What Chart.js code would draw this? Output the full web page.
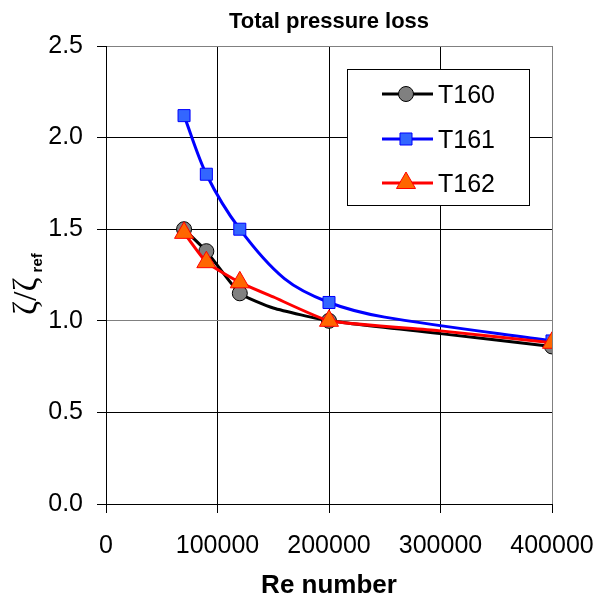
<!DOCTYPE html>
<html>
<head>
<meta charset="utf-8">
<title>Total pressure loss</title>
<script src="https://cdn.jsdelivr.net/npm/chart.js@4/dist/chart.umd.min.js"></script>
<style>
  html, body { margin: 0; padding: 0; background: #fff; }
  #wrap { width: 595px; height: 600px; }
</style>
</head>
<body>
<div id="wrap"><canvas id="lossChart" width="595" height="600"></canvas></div>
<script>
// ========================================
// Total pressure loss vs Re number
// ========================================

// Re numbers (points without a marker only shape the line)
const reNumbers = [70000, 90000, 120000, 150000, 160000, 200000, 250000, 300000, 400000];
const hasMarker = [true, true, true, false, false, true, false, false, true];

// zeta / zeta_ref per series (null = no point there)
const t160 = [1.50, 1.38, 1.15, 1.07, null, 1.00, null, 0.93, 0.86];
const t161 = [2.12, 1.80, 1.50, null, 1.23, 1.10, 1.02, null, 0.89];
const t162 = [1.48, 1.32, 1.21, 1.13, null, 1.00, null, 0.945, 0.88];

const seriesNames = ['T160', 'T161', 'T162'];
const xTicks = [0, 100000, 200000, 300000, 400000];
const yTicks = [0, 0.5, 1.0, 1.5, 2.0, 2.5];

const FONT = "'Liberation Sans', Arial, sans-serif";

// build {x, y} points from the arrays
function toPoints(values) {
  const pts = [];
  reNumbers.forEach((re, i) => {
    if (values[i] !== null) pts.push({ x: re, y: values[i], m: hasMarker[i] });
  });
  return pts;
}

function makeSeries(label, values, style) {
  return {
    label: label,
    data: toPoints(values),
    borderColor: style.line,
    borderWidth: 3,
    backgroundColor: style.fill,
    pointBackgroundColor: style.fill,
    pointBorderColor: style.edge,
    pointBorderWidth: 1,
    pointStyle: style.shape,
    pointRadius: ctx => (ctx.raw && ctx.raw.m ? style.size : 0),
    pointHoverRadius: 0,
    tension: style.tension,
    fill: false,
    order: style.order
  };
}

const styles = [
  { line: '#000000', fill: '#808080', edge: '#000000', shape: 'circle', size: 7.5, order: 2, tension: 0.15 },
  { line: '#0000FF', fill: '#3366FF', edge: '#0000FF', shape: 'rect', size: 8.5, order: 1, tension: 0.3 },
  { line: '#FF0000', fill: '#FF6600', edge: '#FF0000', shape: 'triangle', size: 11, order: 0, tension: 0.15 }
];

// draw one legend marker by hand
function drawMarker(ctx, st, x, y) {
  ctx.save();
  ctx.fillStyle = st.fill;
  ctx.strokeStyle = st.edge;
  ctx.lineWidth = 1;
  ctx.beginPath();
  const r = st.size;
  if (st.shape === 'circle') {
    ctx.arc(x, y, r, 0, Math.PI * 2);
  } else if (st.shape === 'rect') {
    const h = Math.SQRT1_2 * r;
    ctx.rect(x - h, y - h, 2 * h, 2 * h);
  } else {
    const w = r * Math.sin(Math.PI / 3);
    ctx.moveTo(x, y - r);
    ctx.lineTo(x + w, y + r / 2);
    ctx.lineTo(x - w, y + r / 2);
    ctx.closePath();
  }
  ctx.fill();
  ctx.stroke();
  ctx.restore();
}

// titles, axis label and boxed legend
const decorations = {
  id: 'decorations',
  afterDraw(chart) {
    const ctx = chart.ctx;
    const area = chart.chartArea;
    ctx.save();
    ctx.fillStyle = '#000';

    // chart title
    ctx.font = 'bold 22px ' + FONT;
    ctx.textAlign = 'center';
    ctx.textBaseline = 'alphabetic';
    ctx.fillText('Total pressure loss', (area.left + area.right) / 2, 28);

    // x axis title
    ctx.font = 'bold 26px ' + FONT;
    ctx.fillText('Re number', (area.left + area.right) / 2, 593);

    // y axis title: zeta / zeta_ref
    ctx.save();
    ctx.translate(36, 315);
    ctx.rotate(-Math.PI / 2);
    ctx.textAlign = 'left';
    ctx.font = "34px 'Liberation Serif', 'DejaVu Serif', serif";
    ctx.fillText('ζ/ζ', 0, 0);
    const w = ctx.measureText('ζ/ζ').width;
    ctx.font = 'bold 15px ' + FONT;
    ctx.fillText('ref', w + 5, 6);
    ctx.restore();

    // legend box
    ctx.fillStyle = '#fff';
    ctx.fillRect(347, 69, 182, 136);
    ctx.strokeStyle = '#000';
    ctx.lineWidth = 1;
    ctx.strokeRect(347.5, 69.5, 182, 136);
    const rows = [94, 139, 183];
    seriesNames.forEach((name, i) => {
      const st = styles[i];
      ctx.strokeStyle = st.line;
      ctx.lineWidth = 3;
      ctx.beginPath();
      ctx.moveTo(382, rows[i]);
      ctx.lineTo(433, rows[i]);
      ctx.stroke();
      drawMarker(ctx, st, 406, rows[i]);
      ctx.fillStyle = '#000';
      ctx.font = '25px ' + FONT;
      ctx.textAlign = 'left';
      ctx.textBaseline = 'alphabetic';
      ctx.fillText(name, 438, rows[i] + 9);
    });
    ctx.restore();
  }
};

function gridColor(isEdge) {
  return isEdge ? '#808080' : '#000000';
}

new Chart(document.getElementById('lossChart'), {
  type: 'line',
  data: {
    datasets: [
      makeSeries(seriesNames[0], t160, styles[0]),
      makeSeries(seriesNames[1], t161, styles[1]),
      makeSeries(seriesNames[2], t162, styles[2])
    ]
  },
  options: {
    responsive: false,
    animation: false,
    devicePixelRatio: 1,
    layout: { padding: { top: 46, right: 43, left: 0, bottom: 0 } },
    plugins: {
      legend: { display: false },
      title: { display: false },
      tooltip: { enabled: false }
    },
    scales: {
      x: {
        type: 'linear',
        min: xTicks[0],
        max: xTicks[xTicks.length - 1],
        afterBuildTicks: scale => { scale.ticks = xTicks.map(v => ({ value: v })); },
        afterFit: scale => {
          scale.height = 96;
          // labels may overhang the plot, keep the plot area fixed
          scale.paddingLeft = 0;
          scale.paddingRight = 0;
        },
        border: { color: '#000', width: 1 },
        grid: {
          color: c => gridColor(c.tick && c.tick.value === 400000),
          tickColor: '#000',
          tickLength: 9,
          lineWidth: 1
        },
        ticks: {
          color: '#000',
          font: { family: FONT, size: 25 },
          padding: 18,
          maxRotation: 0,
          autoSkip: false,
          callback: v => String(v)
        }
      },
      y: {
        min: yTicks[0],
        max: yTicks[yTicks.length - 1],
        afterBuildTicks: scale => { scale.ticks = yTicks.map(v => ({ value: v })); },
        afterFit: scale => {
          scale.width = 106;
          scale.paddingTop = 0;
          scale.paddingBottom = 0;
        },
        border: { color: '#000', width: 1 },
        grid: {
          color: c => gridColor(c.tick && (c.tick.value === 1 || c.tick.value === 2.5)),
          tickColor: '#000',
          tickLength: 9,
          lineWidth: 1
        },
        ticks: {
          color: '#000',
          font: { family: FONT, size: 25 },
          padding: 14,
          callback: v => Number(v).toFixed(1)
        }
      }
    }
  },
  plugins: [decorations]
});
</script>
</body>
</html>
